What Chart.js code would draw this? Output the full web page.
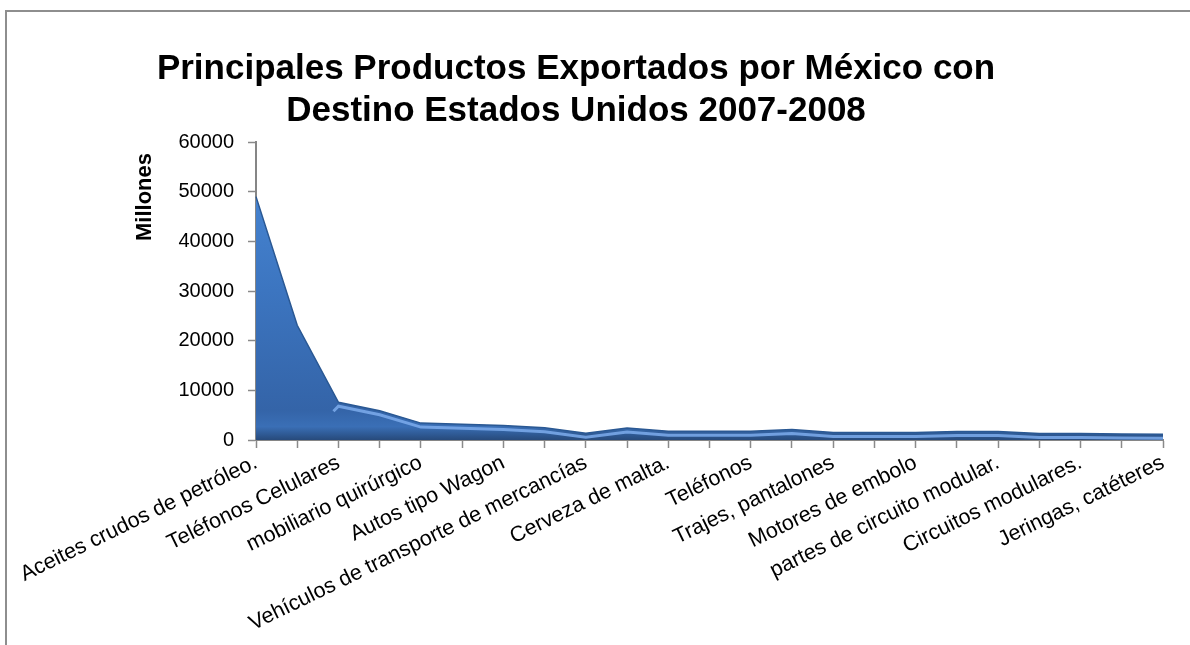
<!DOCTYPE html>
<html>
<head>
<meta charset="utf-8">
<script src="https://cdn.jsdelivr.net/npm/chart.js@4"></script>
<style>
  html, body { margin: 0; padding: 0; background: #fff; overflow: hidden; }
  #marco { position: absolute; left: 5px; top: 10px; width: 1300px; height: 800px;
           border-left: 2px solid #8e8e8e; border-top: 2px solid #8e8e8e; }
  #contenedor { position: absolute; left: 0; top: 0; width: 1190px; height: 645px; }
</style>
</head>
<body>
<div id="marco"></div>
<div id="contenedor"><canvas id="grafico"></canvas></div>
<script>
// Productos (sólo se ven las etiquetas pares en el original)
const productos = [
  'Aceites crudos de petróleo.', '',
  'Teléfonos Celulares', '',
  'mobiliario quirúrgico', '',
  'Autos tipo Wagon', '',
  'Vehículos de transporte de mercancías', '',
  'Cerveza de malta.', '',
  'Teléfonos', '',
  'Trajes, pantalones', '',
  'Motores de embolo', '',
  'partes de circuito modular.', '',
  'Circuitos modulares.', '',
  'Jeringas, catéteres'
];

// Millones de dólares
const valores = [49000, 23100, 7600, 5900, 3400, 3150, 2900, 2450, 1350, 2400, 1750,
                 1750, 1750, 2100, 1500, 1500, 1500, 1700, 1700, 1300, 1300, 1200, 1150];

const titulo = ['Principales Productos Exportados por México con', 'Destino Estados Unidos 2007-2008'];
const tituloEjeY = 'Millones';

const fuente = "'Liberation Sans', Arial, sans-serif";

// relleno con degradado tipo Excel
function degradado(context) {
  const area = context.chart.chartArea;
  if (!area) return '#3b74bf';
  const g = context.chart.ctx.createLinearGradient(0, area.top, 0, area.bottom);
  g.addColorStop(0, '#4a8ad8');
  g.addColorStop(0.5, '#3c75c0');
  g.addColorStop(0.9, '#3464a8');
  g.addColorStop(0.955, '#3a6fb6');
  g.addColorStop(1, '#274a7b');
  return g;
}

// brillo del borde superior, título y título del eje Y
const extras = {
  id: 'extras',
  afterDatasetsDraw(chart) {
    const ctx = chart.ctx;
    const area = chart.chartArea;
    const pts = chart.getDatasetMeta(0).data;
    ctx.save();
    ctx.beginPath();
    ctx.rect(area.left, area.top, area.right - area.left, area.bottom - area.top);
    ctx.clip();
    ctx.beginPath();
    pts.forEach((p, i) => {
      if (i < 2) return;
      if (i === 2) ctx.moveTo(p.x - 5, p.y + 9);
      ctx.lineTo(p.x, p.y + 4);
    });
    ctx.strokeStyle = 'rgba(125,172,236,0.85)';
    ctx.lineWidth = 3;
    ctx.stroke();
    ctx.restore();
  },
  afterDraw(chart) {
    const ctx = chart.ctx;
    ctx.save();
    ctx.fillStyle = '#000';
    ctx.font = 'bold 35px ' + fuente;
    ctx.textAlign = 'center';
    ctx.textBaseline = 'middle';
    ctx.fillText(titulo[0], 576, 69);
    ctx.fillText(titulo[1], 576, 111);

    ctx.translate(151, 197);
    ctx.rotate(-Math.PI / 2);
    ctx.font = 'bold 22px ' + fuente;
    ctx.textBaseline = 'alphabetic';
    ctx.fillText(tituloEjeY, 0, 0);
    ctx.restore();
  }
};

new Chart(document.getElementById('grafico'), {
  type: 'line',
  data: {
    labels: productos,
    datasets: [{
      data: valores,
      fill: 'origin',
      backgroundColor: degradado,
      borderColor: '#2a5893',
      borderWidth: 1.5,
      pointRadius: 0,
      tension: 0
    }]
  },
  options: {
    responsive: true,
    maintainAspectRatio: false,
    animation: false,
    layout: { padding: { left: 11, right: 27, top: 142, bottom: 0 } },
    plugins: {
      legend: { display: false },
      tooltip: { enabled: false },
      title: { display: false }
    },
    scales: {
      x: {
        offset: false,
        afterFit: s => { s.height = 205; },
        grid: { drawOnChartArea: false, color: '#8a8a8a', tickLength: 8, tickWidth: 1.5 },
        border: { color: '#868686', width: 2 },
        ticks: {
          autoSkip: false,
          maxRotation: 26,
          minRotation: 26,
          padding: 2,
          color: '#000',
          font: { family: fuente, size: 21.5 }
        }
      },
      y: {
        min: 0,
        max: 60000,
        afterFit: s => { s.width = 245; },
        grid: { drawOnChartArea: false, color: '#8a8a8a', tickLength: 8, tickWidth: 1.5 },
        border: { color: '#868686', width: 2 },
        ticks: {
          stepSize: 10000,
          padding: 14,
          color: '#000',
          font: { family: fuente, size: 20 },
          callback: v => String(v)
        }
      }
    }
  },
  plugins: [extras]
});
</script>
</body>
</html>
